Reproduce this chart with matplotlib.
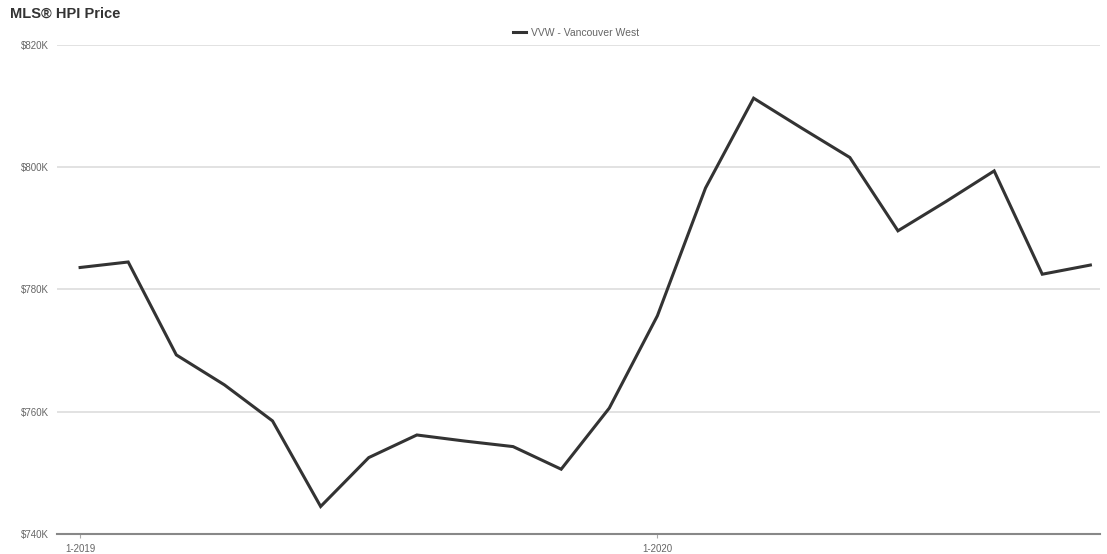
import matplotlib
matplotlib.use("Agg")
import matplotlib.pyplot as plt

plt.rcParams['font.family'] = ['Liberation Sans', 'DejaVu Sans']

# monthly benchmark price, Jan 2019 .. Oct 2020 (thousands of dollars)
months = list(range(22))
prices = [783.6, 784.5, 769.3, 764.4, 758.5, 744.5, 752.5, 756.2, 755.2, 754.3,
          750.6, 760.6, 775.7, 796.6, 811.3, 806.4, 801.6, 789.6, 794.4, 799.4,
          782.5, 784.0]
yticks = [740, 760, 780, 800, 820]
xticks = [0, 12]
xlabels = ['1-2019', '1-2020']

W, H = 1107, 554
fig = plt.figure(figsize=(W / 100, H / 100), dpi=100)
ax = fig.add_axes([57 / W, 1 - 534 / H, (1100 - 57) / W, (534 - 45) / H])

ax.plot(months, prices, color='#333333', lw=2.2, solid_joinstyle='miter',
        label='VVW - Vancouver West', zorder=3)

ax.set_xlim(-0.48, 21.2)
ax.set_ylim(740, 820)
ax.set_yticks(yticks)
ax.set_yticklabels(['$%dK' % v for v in yticks])
ax.set_xticks(xticks)
ax.set_xticklabels(xlabels)

ax.grid(axis='y', color='#dddddd', lw=1.2)
ax.set_axisbelow(True)
for s in ['top', 'right', 'left']:
    ax.spines[s].set_visible(False)
ax.spines['bottom'].set_color('#888888')
ax.spines['bottom'].set_linewidth(1.5)
ax.tick_params(axis='y', length=0, pad=6, labelsize=7, labelcolor='#666666')
ax.tick_params(axis='x', length=3, width=0.8, color='#aaaaaa', pad=4,
               labelsize=7, labelcolor='#666666')

ax.legend(loc='center', bbox_to_anchor=(576 / W, 1 - 33 / H),
          bbox_transform=fig.transFigure, frameon=False,
          fontsize=7.5, handlelength=1.3, handletextpad=0.5,
          labelcolor='#666666')

fig.text(10 / W, 1 - 14 / H, 'MLS® HPI Price', fontsize=10.5, fontweight='bold',
         color='#333333', va='center', ha='left')

fig.savefig('out.png', dpi=100)
